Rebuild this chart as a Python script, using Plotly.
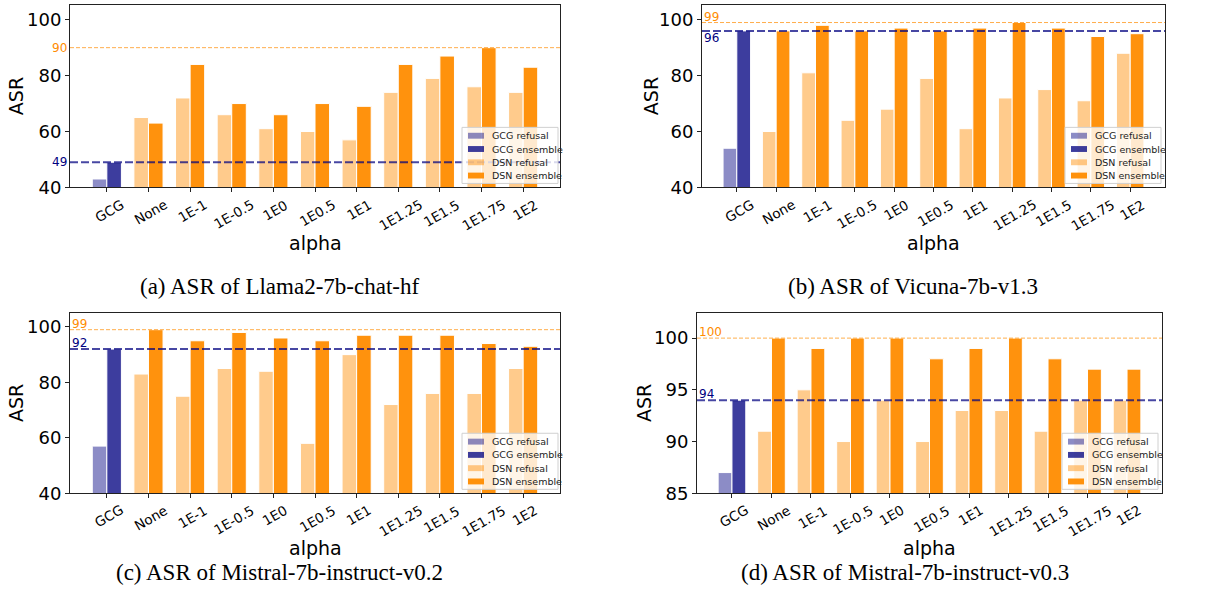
import plotly.graph_objects as go

categories = ["GCG", "None", "1E-1", "1E-0.5", "1E0", "1E0.5", "1E1", "1E1.25", "1E1.5", "1E1.75", "1E2"]
alphas = categories[1:]

llama_gcg_refusal = 43
llama_gcg_ensemble = 49
llama_dsn_refusal = [65, 72, 66, 61, 60, 57, 74, 79, 76, 74]
llama_dsn_ensemble = [63, 84, 70, 66, 70, 69, 84, 87, 90, 83]

vicuna_gcg_refusal = 54
vicuna_gcg_ensemble = 96
vicuna_dsn_refusal = [60, 81, 64, 68, 79, 61, 72, 75, 71, 88]
vicuna_dsn_ensemble = [96, 98, 96, 97, 96, 97, 99, 97, 94, 95]

mistral02_gcg_refusal = 57
mistral02_gcg_ensemble = 92
mistral02_dsn_refusal = [83, 75, 85, 84, 58, 90, 72, 76, 76, 85]
mistral02_dsn_ensemble = [99, 95, 98, 96, 95, 97, 97, 97, 94, 93]

mistral03_gcg_refusal = 87
mistral03_gcg_ensemble = 94
mistral03_dsn_refusal = [91, 95, 90, 94, 90, 93, 93, 91, 94, 94]
mistral03_dsn_ensemble = [100, 99, 100, 100, 98, 99, 100, 98, 97, 97]

legend_labels = ["GCG refusal", "GCG ensemble", "DSN refusal", "DSN ensemble"]
captions = ["(a) ASR of Llama2-7b-chat-hf", "(b) ASR of Vicuna-7b-v1.3",
            "(c) ASR of Mistral-7b-instruct-v0.2", "(d) ASR of Mistral-7b-instruct-v0.3"]

W, H = 1208, 608
C_GCG_REF = "rgba(0,0,128,0.45)"
C_GCG_ENS = "rgba(0,0,128,0.76)"
C_DSN_REF = "rgba(255,140,0,0.45)"
C_DSN_ENS = "rgba(255,140,0,0.95)"
legend_colors = [C_GCG_REF, C_GCG_ENS, C_DSN_REF, C_DSN_ENS]

def px(x):
    return x / W

def py(y):
    return 1 - y / H

panels = [
    dict(gr=llama_gcg_refusal, ge=llama_gcg_ensemble, dr=llama_dsn_refusal, de=llama_dsn_ensemble,
         xd=[70, 560], yd=[5, 190.5], yr=[40, 105.3], ticks=[40, 60, 80, 100],
         leg=(558, 186.5), asr_x=16, alpha_y=247, cap=(279, 291), lab="outside"),
    dict(gr=vicuna_gcg_refusal, ge=vicuna_gcg_ensemble, dr=vicuna_dsn_refusal, de=vicuna_dsn_ensemble,
         xd=[702, 1165], yd=[5, 190.5], yr=[40, 105.3], ticks=[40, 60, 80, 100],
         leg=(1161, 186.5), asr_x=651, alpha_y=247, cap=(913, 291), lab="split"),
    dict(gr=mistral02_gcg_refusal, ge=mistral02_gcg_ensemble, dr=mistral02_dsn_refusal, de=mistral02_dsn_ensemble,
         xd=[70, 560], yd=[318, 501.5], yr=[40, 105.1], ticks=[40, 60, 80, 100],
         leg=(558, 497.5), asr_x=16, alpha_y=557, cap=(279, 582), lab="above"),
    dict(gr=mistral03_gcg_refusal, ge=mistral03_gcg_ensemble, dr=mistral03_dsn_refusal, de=mistral03_dsn_ensemble,
         xd=[697, 1162], yd=[318, 501.5], yr=[85, 102.45], ticks=[85, 90, 95, 100],
         leg=(1158, 497.5), asr_x=644, alpha_y=557, cap=(905, 582), lab="above"),
]

fig = go.Figure()
layout = dict(width=W, height=H, autosize=False, margin=dict(l=0, r=0, t=0, b=0),
              plot_bgcolor="white", paper_bgcolor="white", barmode="overlay",
              font=dict(family="DejaVu Sans", color="black"), showlegend=False)
annotations = []
shapes = []

for i, p in enumerate(panels, start=1):
    sfx = "" if i == 1 else str(i)
    xa, ya = "x" + sfx, "y" + sfx
    common = dict(xaxis=xa, yaxis=ya, width=0.35)
    fig.add_trace(go.Bar(x=[categories[0]], y=[p["gr"]], name=legend_labels[0], offset=-0.35,
                         marker=dict(color=C_GCG_REF, line=dict(color="white", width=1)), **common))
    fig.add_trace(go.Bar(x=[categories[0]], y=[p["ge"]], name=legend_labels[1], offset=0,
                         marker=dict(color=C_GCG_ENS, line=dict(color="white", width=1)), **common))
    fig.add_trace(go.Bar(x=alphas, y=p["dr"], name=legend_labels[2], offset=-0.35,
                         marker=dict(color=C_DSN_REF, line=dict(color="white", width=1)), **common))
    fig.add_trace(go.Bar(x=alphas, y=p["de"], name=legend_labels[3], offset=0,
                         marker=dict(color=C_DSN_ENS, line=dict(color="white", width=1)), **common))

    layout["xaxis" + sfx] = dict(domain=[px(p["xd"][0]), px(p["xd"][1])], anchor=ya,
                                 type="category", categoryorder="array", categoryarray=categories,
                                 range=[-0.885, 10.885], showticklabels=False, ticks="outside", ticklen=4,
                                 tickcolor="#222",
                                 showline=True, linecolor="#222", linewidth=1, mirror=True,
                                 showgrid=False, zeroline=False)
    layout["yaxis" + sfx] = dict(domain=[py(p["yd"][1]), py(p["yd"][0])], anchor=xa,
                                 range=p["yr"], tickvals=p["ticks"], ticks="outside", ticklen=4,
                                 tickcolor="#222", tickfont=dict(size=18, color="black"),
                                 showline=True, linecolor="#222", linewidth=1, mirror=True,
                                 showgrid=False, zeroline=False)

    # rotated category labels centred on their ticks (numeric category index as position)
    for idx, c in enumerate(categories):
        annotations.append(dict(xref=xa, yref="paper", x=idx, y=py(p["yd"][1]), text=c,
                                textangle=-30, xanchor="center", yanchor="top", yshift=-6,
                                xshift=2, showarrow=False, font=dict(size=13.5, color="black")))

    top_dsn = max(p["de"])
    gcg_line = p["ge"]
    shapes.append(dict(type="line", xref=xa + " domain", yref=ya, x0=0, x1=1, y0=top_dsn, y1=top_dsn,
                       line=dict(color="rgba(255,140,0,0.7)", width=1, dash="4px,2px"), layer="above"))
    shapes.append(dict(type="line", xref=xa + " domain", yref=ya, x0=0, x1=1, y0=gcg_line, y1=gcg_line,
                       line=dict(color="rgba(0,0,128,0.72)", width=2, dash="8px,3px"), layer="above"))

    if p["lab"] == "outside":
        annotations.append(dict(xref=xa + " domain", yref=ya, x=0, y=top_dsn, text=str(top_dsn),
                                xanchor="right", yanchor="middle", showarrow=False, xshift=-1,
                                font=dict(size=12, color="darkorange")))
        annotations.append(dict(xref=xa + " domain", yref=ya, x=0, y=gcg_line, text=str(gcg_line),
                                xanchor="right", yanchor="middle", showarrow=False, xshift=-1,
                                font=dict(size=12, color="navy")))
    else:
        annotations.append(dict(xref=xa + " domain", yref=ya, x=0, y=top_dsn, text=str(top_dsn),
                                xanchor="left", yanchor="bottom", showarrow=False, yshift=-3,
                                font=dict(size=12, color="darkorange")))
        if p["lab"] == "split":
            annotations.append(dict(xref=xa + " domain", yref=ya, x=0, y=gcg_line, text=str(gcg_line),
                                    xanchor="left", yanchor="top", showarrow=False, yshift=2,
                                    font=dict(size=12, color="navy")))
        else:
            annotations.append(dict(xref=xa + " domain", yref=ya, x=0, y=gcg_line, text=str(gcg_line),
                                    xanchor="left", yanchor="bottom", showarrow=False, yshift=-3,
                                    font=dict(size=12, color="navy")))

    # legend drawn as a box with swatches (lower right of each panel)
    lx1, ly1 = p["leg"]
    lw, lh = 96, 57
    lx0, ly0 = lx1 - lw, ly1 - lh
    shapes.append(dict(type="rect", xref="paper", yref="paper", x0=px(lx0), x1=px(lx1),
                       y0=py(ly1), y1=py(ly0), fillcolor="rgba(255,255,255,0.8)",
                       line=dict(color="#d0d0d0", width=1), layer="above"))
    for k, (lab, col) in enumerate(zip(legend_labels, legend_colors)):
        yc = ly0 + 8.5 + k * 13.5
        shapes.append(dict(type="rect", xref="paper", yref="paper", x0=px(lx0 + 6), x1=px(lx0 + 22),
                           y0=py(yc + 3), y1=py(yc - 3), fillcolor=col, line=dict(width=0),
                           layer="above"))
        annotations.append(dict(xref="paper", yref="paper", x=px(lx0 + 28), y=py(yc), text=lab,
                                xanchor="left", yanchor="middle", showarrow=False,
                                font=dict(size=9.5, color="#222")))

    ymid = (p["yd"][0] + p["yd"][1]) / 2
    annotations.append(dict(xref="paper", yref="paper", x=px(p["asr_x"]), y=py(ymid), text="ASR",
                            textangle=-90, showarrow=False, xanchor="center", yanchor="middle",
                            font=dict(size=19, color="black")))
    xmid = (p["xd"][0] + p["xd"][1]) / 2
    annotations.append(dict(xref="paper", yref="paper", x=px(xmid), y=py(p["alpha_y"]), text="alpha",
                            showarrow=False, xanchor="center", yanchor="middle",
                            font=dict(size=19, color="black")))
    annotations.append(dict(xref="paper", yref="paper", x=px(p["cap"][0]), y=py(p["cap"][1]),
                            text=captions[i - 1], showarrow=False, xanchor="center", yanchor="middle",
                            font=dict(size=23, color="black", family="Liberation Serif")))

layout["annotations"] = annotations
layout["shapes"] = shapes
fig.update_layout(**layout)
fig.write_html("out.html")
